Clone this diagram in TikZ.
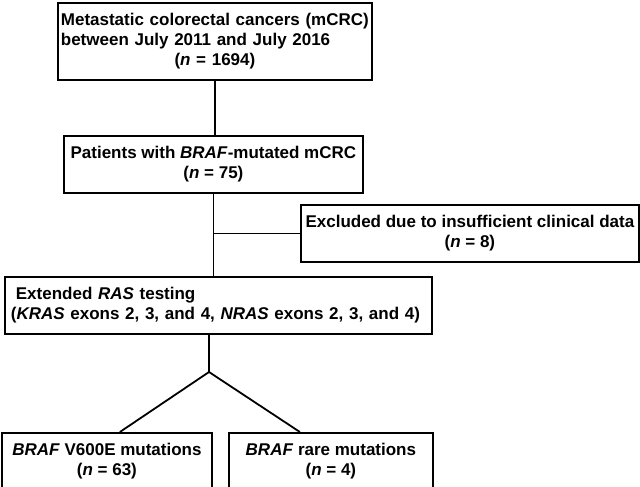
\documentclass[tikz,border=0pt]{standalone}
\usepackage{fontspec}
\setmainfont{Liberation Sans}
\usetikzlibrary{positioning}

\begin{document}
\begin{tikzpicture}[
    x=1pt, y=1pt,
    font=\fontsize{17}{20}\selectfont\bfseries,
    box/.style={draw, line width=1.8pt, anchor=north west, align=center, inner sep=3pt, minimum height=57pt},
    conn/.style={line width=1.8pt}
]
\useasboundingbox (0,0) rectangle (640,-487);
\node[box, align=left, text width=308pt, minimum height=77pt] (mcrc) at (57,-2) {Metastatic colorectal cancers (mCRC)\\between July 2011 and July 2016\\\makebox[308pt]{(\textit{n} = 1694)}};
\node[box, minimum width=299pt] (braf) at (63,-135) {Patients with \textit{BRAF}-mutated mCRC\\(\textit{n} = 75)};
\node[box, minimum width=338pt] (excl) at (300,-204) {Excluded due to insufficient clinical data\\(\textit{n} = 8)};
\node[box, align=left, inner xsep=6pt, text width=415pt] (ras) at (4,-276) {\hspace*{5pt}Extended \textit{RAS} testing\\(\textit{KRAS} exons 2, 3, and 4, \textit{NRAS} exons 2, 3, and 4)};
\node[box, minimum width=210pt] (v600e) at (1,-432) {\textit{BRAF} V600E mutations\\(\textit{n} = 63)};
\node[box, minimum width=204pt] (rare) at (228,-432) {\textit{BRAF} rare mutations\\(\textit{n} = 4)};
\coordinate (fork) at (209,-372);

\draw[conn] (mcrc.south) -- (mcrc.south |- braf.north);
\draw[conn] (braf.south) -- (braf.south |- ras.north);
\draw[conn] (braf.south |- excl.west) -- (excl.west);
\draw[conn] (fork |- ras.south) -- (fork);
\draw[conn] ([xshift=13pt]v600e.north) -- (fork) -- ([xshift=-31pt]rare.north);
\end{tikzpicture}
\end{document}
